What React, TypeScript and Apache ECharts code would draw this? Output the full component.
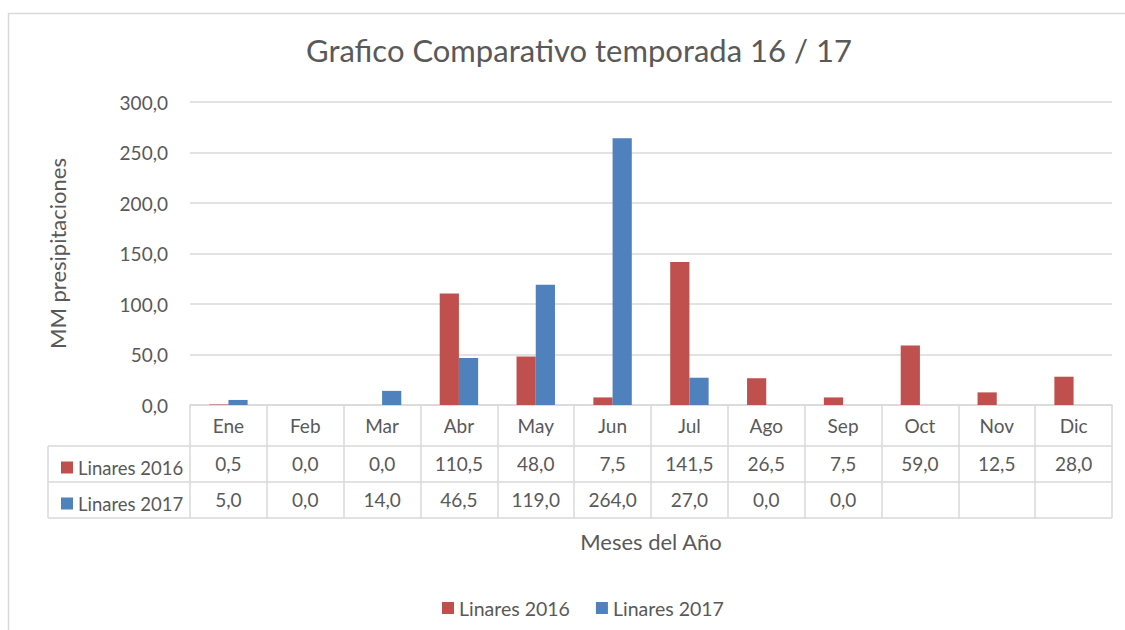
import React, { useEffect, useRef } from "react";
import * as echarts from "echarts";

const months = ["Ene", "Feb", "Mar", "Abr", "May", "Jun", "Jul", "Ago", "Sep", "Oct", "Nov", "Dic"];
const linares2016 = [0.5, 0, 0, 110.5, 48, 7.5, 141.5, 26.5, 7.5, 59, 12.5, 28];
const linares2017: (number | null)[] = [5, 0, 14, 46.5, 119, 264, 27, 0, 0, null, null, null];
const seriesNames = ["Linares 2016", "Linares 2017"];
const colors = ["#C0504D", "#4F81BD"];
const titleText = "Grafico Comparativo temporada 16 / 17";
const yName = "MM presipitaciones";
const xName = "Meses del Año";

const FONT = "Lato";
const TXT = "#595959";
const LINE = "#d9d9d9";

const fmt = (v: number | null) => (v === null || v === undefined ? "" : v.toFixed(1).replace(".", ","));

export default function App() {
  const ref = useRef<HTMLDivElement>(null);
  useEffect(() => {
    document.body.style.margin = "0";
    const chart = echarts.init(ref.current!, null, { renderer: "svg" });
    const gl = 190, gr = 1112, gt = 102, gb = 405;
    const catAxis = (offset: number, tickLen: number, margin: number, formatter: any, extra: any = {}) => ({
      type: "category",
      data: months,
      position: "bottom",
      offset,
      gridIndex: 0,
      axisLine: { show: true, lineStyle: { color: LINE, width: 1.5 } },
      axisTick: { show: true, length: tickLen, interval: 0, lineStyle: { color: LINE, width: 1.5 } },
      axisLabel: { interval: 0, margin, color: TXT, fontFamily: FONT, fontSize: 19, formatter },
      ...extra,
    });
    chart.setOption({
      animation: false,
      textStyle: { fontFamily: FONT },
      title: {
        text: titleText,
        left: 301,
        top: 29,
        textStyle: { fontFamily: FONT, fontSize: 31, fontWeight: "normal", color: TXT },
      },
      legend: [
        {
          data: seriesNames,
          left: 437,
          top: 593,
          itemWidth: 12,
          itemHeight: 12,
          itemGap: 26,
          selectedMode: false,
          icon: "rect",
          textStyle: { fontFamily: FONT, fontSize: 19.5, color: TXT },
        },
        {
          data: [seriesNames[0]],
          left: 56,
          top: 453,
          itemWidth: 12,
          itemHeight: 12,
          selectedMode: false,
          icon: "rect",
          textStyle: { fontFamily: FONT, fontSize: 18.5, color: TXT },
        },
        {
          data: [seriesNames[1]],
          left: 56,
          top: 489,
          itemWidth: 12,
          itemHeight: 12,
          selectedMode: false,
          icon: "rect",
          textStyle: { fontFamily: FONT, fontSize: 18.5, color: TXT },
        },
      ],
      grid: { left: gl, right: 1125 - gr, top: gt, bottom: 630 - gb, containLabel: false },
      xAxis: [
        catAxis(0, 41, 11, (v: string) => v),
        catAxis(41, 36, 8, (_v: string, i: number) => fmt(linares2016[i])),
        catAxis(77, 36, 8, (_v: string, i: number) => fmt(linares2017[i]), {
          name: xName,
          nameLocation: "middle",
          nameGap: 48,
          nameTextStyle: { fontFamily: FONT, fontSize: 22, color: TXT },
        }),
      ],
      yAxis: {
        type: "value",
        min: 0,
        max: 300,
        interval: 50,
        name: yName,
        nameLocation: "middle",
        nameRotate: 90,
        nameGap: 122,
        nameTextStyle: { fontFamily: FONT, fontSize: 22, color: TXT },
        axisLine: { show: false },
        axisTick: { show: false },
        axisLabel: { margin: 22, color: TXT, fontFamily: FONT, fontSize: 19, formatter: (v: number) => fmt(v) },
        splitLine: { lineStyle: { color: LINE, width: 1.5 } },
      },
      series: [
        {
          name: seriesNames[0],
          type: "bar",
          data: linares2016,
          itemStyle: { color: colors[0] },
          barGap: "0%",
          barCategoryGap: "50%",
          xAxisIndex: 0,
        },
        {
          name: seriesNames[1],
          type: "bar",
          data: linares2017,
          itemStyle: { color: colors[1] },
          barGap: "0%",
          barCategoryGap: "50%",
          xAxisIndex: 0,
        },
      ],
      graphic: [
        { type: "rect", shape: { x: 8.5, y: 13.5, width: 1200, height: 700 }, style: { fill: "none", stroke: LINE, lineWidth: 1.5 }, silent: true },
        { type: "line", shape: { x1: 48, y1: 446, x2: gl, y2: 446 }, style: { stroke: LINE, lineWidth: 1.5 } },
        { type: "line", shape: { x1: 48, y1: 482, x2: gl, y2: 482 }, style: { stroke: LINE, lineWidth: 1.5 } },
        { type: "line", shape: { x1: 48, y1: 518, x2: gr, y2: 518 }, style: { stroke: LINE, lineWidth: 1.5 } },
        { type: "line", shape: { x1: 48, y1: 446, x2: 48, y2: 518 }, style: { stroke: LINE, lineWidth: 1.5 } },
      ],
    });
    return () => chart.dispose();
  }, []);
  return <div ref={ref} style={{ width: 1125, height: 630, background: "#fff" }} />;
}
